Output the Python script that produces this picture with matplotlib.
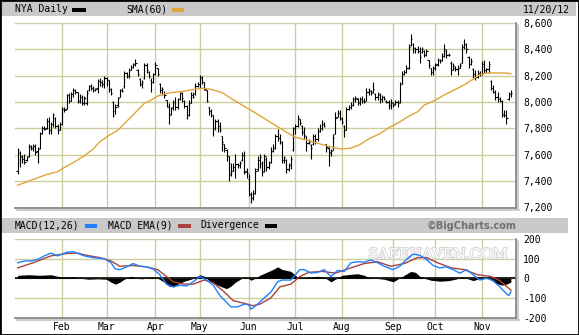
import matplotlib
matplotlib.use("Agg")
import matplotlib.pyplot as plt
import matplotlib.patheffects as pe
from matplotlib.lines import Line2D
from matplotlib.patches import Rectangle
import numpy as np
import pandas as pd

# NYSE Composite daily bars, 2012-01-03 .. 2012-11-20
opens = [
    7480, 7615, 7585, 7570, 7560, 7590, 7660, 7650, 7670, 7625,
    7650, 7765, 7800, 7800, 7860, 7790, 7830, 7880, 7820, 7790,
    7835, 7950, 7945, 8050, 8010, 8060, 8090, 8075, 8010, 8040,
    7995, 7990, 8090, 8120, 8110, 8095, 8110, 8160, 8150, 8135,
    8180, 8165, 8100, 8000, 7930, 7975, 8040, 8090, 8120, 8220,
    8200, 8245, 8265, 8290, 8240, 8175, 8140, 8180, 8285, 8230,
    8170, 8150, 8210, 8260, 8140, 8090, 8060, 8015, 7960, 7910,
    7960, 8000, 7960, 8020, 8070, 8010, 7970, 7900, 7995, 8050,
    8060, 8120, 8140, 8185, 8150, 8090, 7960, 7930, 7900, 7800,
    7855, 7820, 7740, 7680, 7640, 7590, 7460, 7480, 7510, 7530,
    7520, 7560, 7600, 7480, 7420, 7300, 7270, 7310, 7490, 7560,
    7540, 7480, 7570, 7510, 7545, 7630, 7650, 7740, 7730, 7700,
    7560, 7560, 7490, 7520, 7640, 7800, 7820, 7870, 7820, 7770,
    7745, 7690, 7675, 7680, 7740, 7720, 7780, 7800, 7830, 7680,
    7650, 7620, 7640, 7760, 7890, 7920, 7870, 7820, 7790, 7950,
    7965, 7975, 8020, 8020, 8000, 8020, 8010, 8010, 8080, 8085,
    8075, 8060, 8040, 8050, 8020, 8040, 8010, 8000, 7975, 7990,
    7985, 8000, 8000, 8140, 8210, 8225, 8260, 8430, 8440, 8410,
    8400, 8390, 8380, 8390, 8360, 8320, 8260, 8230, 8255, 8290,
    8320, 8320, 8350, 8390, 8360, 8300, 8245, 8260, 8250, 8260,
    8300, 8420, 8440, 8340, 8290, 8250, 8210, 8190, 8220, 8215,
    8290, 8240, 8250, 8160, 8110, 8080, 8040, 8020, 8010, 7910,
    7900, 8020, 8060,
]
highs = [
    7655, 7625, 7595, 7605, 7592, 7682, 7672, 7685, 7680, 7660,
    7775, 7815, 7822, 7878, 7890, 7850, 7920, 7890, 7835, 7850,
    7960, 7962, 8065, 8068, 8080, 8105, 8100, 8080, 8060, 8055,
    8045, 8092, 8130, 8138, 8120, 8110, 8178, 8182, 8170, 8195,
    8190, 8170, 8105, 8005, 7985, 8040, 8100, 8105, 8233, 8230,
    8260, 8278, 8300, 8330, 8251, 8185, 8170, 8298, 8300, 8235,
    8182, 8222, 8303, 8262, 8145, 8118, 8087, 8015, 7990, 7965,
    8015, 8036, 8030, 8080, 8075, 8015, 7977, 8015, 8080, 8080,
    8144, 8156, 8208, 8195, 8155, 8092, 7964, 7950, 7900, 7874,
    7874, 7850, 7746, 7682, 7644, 7592, 7541, 7541, 7605, 7541,
    7554, 7618, 7630, 7503, 7451, 7320, 7336, 7503, 7592, 7605,
    7554, 7605, 7580, 7554, 7656, 7682, 7759, 7797, 7760, 7705,
    7592, 7567, 7541, 7592, 7810, 7835, 7900, 7875, 7826, 7810,
    7746, 7718, 7682, 7759, 7759, 7800, 7836, 7862, 7850, 7685,
    7656, 7644, 7759, 7926, 7938, 7938, 7887, 7823, 7964, 7977,
    7998, 8041, 8046, 8028, 8041, 8046, 8028, 8105, 8105, 8092,
    8156, 8067, 8080, 8067, 8054, 8045, 8015, 8015, 8020, 7998,
    8015, 8015, 8156, 8233, 8246, 8285, 8439, 8515, 8450, 8420,
    8425, 8416, 8420, 8395, 8405, 8323, 8262, 8272, 8298, 8336,
    8330, 8375, 8440, 8400, 8375, 8310, 8298, 8272, 8285, 8298,
    8439, 8477, 8452, 8349, 8336, 8259, 8246, 8246, 8233, 8310,
    8323, 8259, 8310, 8169, 8131, 8092, 8080, 8041, 8015, 7938,
    7938, 8080, 8092,
]
lows = [
    7455, 7505, 7540, 7528, 7550, 7580, 7640, 7625, 7600, 7540,
    7645, 7760, 7785, 7795, 7760, 7760, 7810, 7800, 7760, 7785,
    7825, 7925, 7945, 7990, 8005, 8040, 8060, 7990, 7990, 7977,
    7977, 7977, 8085, 8095, 8080, 8085, 8070, 8120, 8115, 8105,
    8120, 8080, 8054, 7890, 7910, 7965, 8035, 8075, 8110, 8180,
    8180, 8240, 8255, 8270, 8195, 8120, 8105, 8175, 8220, 8182,
    8080, 8144, 8205, 8195, 8067, 8054, 8030, 7964, 7832, 7900,
    7938, 7938, 7950, 8015, 8000, 7952, 7874, 7895, 7990, 8030,
    8055, 8118, 8105, 8140, 8090, 8003, 7900, 7885, 7746, 7790,
    7772, 7772, 7630, 7618, 7554, 7400, 7441, 7477, 7426, 7503,
    7503, 7554, 7451, 7426, 7285, 7233, 7260, 7300, 7480, 7500,
    7439, 7470, 7477, 7490, 7540, 7618, 7645, 7708, 7682, 7541,
    7541, 7464, 7480, 7490, 7630, 7759, 7810, 7823, 7749, 7720,
    7630, 7680, 7567, 7675, 7682, 7708, 7770, 7790, 7810, 7618,
    7515, 7592, 7636, 7755, 7887, 7862, 7836, 7736, 7785, 7938,
    7951, 7970, 8003, 7977, 7977, 7990, 7990, 8005, 8054, 8054,
    8070, 8015, 8015, 7990, 8003, 8015, 7990, 7951, 7951, 7960,
    7977, 7964, 7995, 8135, 8205, 8220, 8250, 8426, 8375, 8375,
    8375, 8300, 8375, 8343, 8350, 8259, 8208, 8208, 8246, 8272,
    8295, 8315, 8345, 8336, 8349, 8208, 8240, 8233, 8208, 8259,
    8295, 8400, 8375, 8259, 8285, 8182, 8169, 8182, 8195, 8208,
    8220, 8220, 8220, 8092, 8067, 8015, 8003, 8003, 7887, 7887,
    7836, 8015, 8041,
]
closes = [
    7640, 7590, 7570, 7545, 7585, 7665, 7650, 7670, 7620, 7645,
    7760, 7800, 7795, 7860, 7790, 7830, 7900, 7820, 7790, 7830,
    7950, 7940, 8050, 8010, 8060, 8090, 8075, 8010, 8040, 7995,
    8030, 8070, 8120, 8110, 8095, 8100, 8160, 8150, 8135, 8180,
    8170, 8100, 8070, 7900, 7965, 8030, 8090, 8085, 8220, 8200,
    8245, 8265, 8285, 8300, 8210, 8140, 8150, 8285, 8240, 8200,
    8150, 8210, 8280, 8210, 8090, 8100, 8050, 7970, 7900, 7955,
    8000, 7960, 8020, 8070, 8030, 7970, 7900, 7990, 8050, 8040,
    8120, 8140, 8190, 8150, 8100, 8010, 7930, 7900, 7800, 7860,
    7820, 7790, 7700, 7650, 7590, 7450, 7480, 7510, 7530, 7520,
    7540, 7600, 7470, 7460, 7300, 7270, 7300, 7480, 7560, 7580,
    7470, 7590, 7510, 7540, 7630, 7650, 7740, 7730, 7700, 7560,
    7580, 7490, 7520, 7570, 7800, 7820, 7880, 7840, 7770, 7750,
    7690, 7700, 7650, 7740, 7720, 7780, 7800, 7830, 7820, 7660,
    7610, 7630, 7730, 7880, 7920, 7880, 7850, 7790, 7950, 7965,
    7975, 8020, 8030, 7995, 8020, 8010, 8000, 8080, 8090, 8070,
    8100, 8040, 8060, 8020, 8040, 8020, 8000, 7970, 8000, 7980,
    8000, 7990, 8140, 8210, 8225, 8260, 8420, 8480, 8410, 8400,
    8390, 8340, 8400, 8360, 8390, 8280, 8230, 8255, 8280, 8320,
    8310, 8350, 8400, 8360, 8355, 8240, 8270, 8250, 8260, 8285,
    8420, 8440, 8400, 8290, 8310, 8210, 8190, 8220, 8210, 8290,
    8240, 8250, 8290, 8110, 8080, 8040, 8020, 8010, 7900, 7900,
    7880, 8060, 8070,
]
holidays = ["2012-01-16", "2012-02-20", "2012-04-06", "2012-05-28",
            "2012-07-04", "2012-09-03", "2012-10-29", "2012-10-30"]

# 60-day simple moving average, read at selected sessions
sma_day = [0, 7, 13, 18, 21, 25, 30, 34, 37, 41, 45, 48, 51, 54, 57, 60, 63, 66, 69, 74,
           78, 83, 87, 92, 96, 101, 105, 110, 113, 116, 121, 125, 130, 134, 139, 143, 146, 150,
           154, 158, 163, 167, 172, 176, 180, 183, 188, 192, 196, 201, 205, 208, 211, 216, 219, 222]
sma_val = [7369, 7413, 7450, 7472, 7503, 7541, 7592, 7644, 7700, 7746, 7785, 7836, 7887, 7938,
           7990, 8015, 8046, 8062, 8072, 8080, 8092, 8105, 8097, 8072, 8028, 7977, 7938, 7887,
           7855, 7823, 7772, 7733, 7713, 7692, 7669, 7651, 7644, 7651, 7677, 7721, 7759, 7805,
           7849, 7892, 7926, 7977, 8015, 8054, 8087, 8131, 8174, 8208, 8221, 8221, 8221, 8215]

# MACD(12,26), its 9-day EMA and the divergence histogram
macd_day = [0, 3, 6, 9, 12, 15, 18, 22, 25, 30, 34, 39, 42, 44, 46, 49, 52, 55, 58, 61,
            64, 67, 70, 73, 76, 79, 82, 85, 88, 91, 96, 99, 102, 104, 105, 108, 111, 114, 117, 119,
            123, 127, 129, 132, 135, 138, 141, 144, 147, 150, 153, 156, 159, 162, 165, 169, 172, 175,
            178, 181, 184, 187, 190, 193, 196, 199, 202, 205, 208, 211, 214, 217, 220, 221, 222]
macd_val = [79, 88, 88, 96, 114, 128, 114, 132, 135, 114, 105, 100, 79, 47, 44, 58, 75, 61, 58, 47,
            18, -30, -44, -35, -40, -18, 9, -9, -35, -88, -146, -146, -132, -135, -158, -132, -100,
            -70, -18, -9, -9, 44, 44, 26, 30, 44, 9, 40, 35, 79, 84, 82, 93, 79, 61, 44, 61, 96,
            123, 117, 96, 65, 53, 58, 44, 26, 44, 18, -9, 0, -12, -44, -79, -88, -70]
signal_day = [0, 7, 15, 22, 27, 31, 37, 42, 46, 52, 58, 63, 67, 70, 75, 79, 84, 88, 93, 97,
              102, 106, 109, 114, 118, 123, 127, 131, 137, 143, 150, 156, 162, 168, 174, 180, 184,
              189, 195, 201, 207, 213, 217, 222]
signal_val = [53, 79, 114, 126, 128, 117, 105, 88, 61, 65, 58, 44, 9, -18, -30, -30, -9, -23, -70,
              -114, -128, -140, -132, -100, -44, -30, 9, 30, 35, 26, 53, 75, 84, 61, 75, 105, 105,
              79, 53, 44, 18, 9, -12, -61]
div_day = [0, 5, 10, 15, 18, 22, 25, 28, 32, 36, 40, 42, 44, 46, 48, 50, 51, 53, 56, 60,
           63, 66, 68, 70, 72, 75, 78, 80, 82, 84, 86, 88, 91, 94, 96, 98, 101, 103, 105, 107,
           109, 112, 115, 117, 119, 121, 123, 126, 128, 131, 135, 138, 141, 143, 146, 150, 153, 156,
           158, 161, 165, 169, 171, 174, 177, 179, 181, 183, 186, 190, 194, 197, 200, 202, 205, 207,
           210, 212, 215, 218, 220, 222]
div_val = [15, 18, 15, 18, 10, 5, 8, 0, -5, -3, -5, -20, -30, -20, -5, 5, 10, 0, -3, 5,
           0, -20, -40, -44, -30, -15, -5, 5, 18, 10, -10, -25, -40, -53, -40, -20, 0, 5, -10, 0,
           15, 30, 45, 58, 45, 40, 35, 5, 0, 5, 10, 5, -18, -5, 15, 20, 23, 15, 5, 0,
           -5, -18, -5, 15, 35, 30, 10, 0, -10, -15, -12, -5, 5, 0, -12, -5, 5, 0, -25, -35,
           -30, -20]

price_ticks = [7200, 7400, 7600, 7800, 8000, 8200, 8400, 8600]
macd_ticks = [-200, -100, 0, 100, 200]
last_date = "11/20/12"

# trading calendar
dates = pd.bdate_range("2012-01-03", "2012-11-20")
dates = dates[~dates.isin(pd.to_datetime(holidays))]
assert len(dates) == len(closes) == len(opens) == len(highs) == len(lows)
day = np.arange(len(dates))
month_pos = [i for i in range(1, len(dates)) if dates[i].month != dates[i - 1].month]
month_lbl = [dates[i].strftime("%b") for i in month_pos]

plt.rcParams["font.family"] = ["DejaVu Sans Mono"]
plt.rcParams["axes.unicode_minus"] = False

W, H = 579, 335
fig = plt.figure(figsize=(W / 100, H / 100), dpi=100)


def fx(x):
    return x / W


def fy(y):
    return 1 - y / H


def box(x0, y0, x1, y1, color):
    fig.patches.append(Rectangle((fx(x0), fy(y1)), fx(x1) - fx(x0), (y1 - y0) / H,
                                 transform=fig.transFigure, color=color, lw=0, zorder=0))


GRID = "#cccc9c"
BLUE = "#1f80ff"
RED = "#a8423c"
GOLD = "#e0a53a"

# header bars
box(2, 2, 576, 16, "#c9c9c9")
box(2, 218, 568, 233, "#c9c9c9")
box(72, 8, 86, 11.5, "black")
box(172, 8, 184, 11.5, GOLD)
box(85, 224, 97, 227.5, BLUE)
box(178, 224, 191, 227.5, RED)
box(265, 224, 277, 227.5, "black")
fig.text(fx(15), fy(9.5), "NYA Daily", va="center", fontsize=7)
fig.text(fx(126), fy(9.5), "SMA(60)", va="center", fontsize=7)
fig.text(fx(523), fy(9.5), last_date, va="center", fontsize=7)
fig.text(fx(15), fy(225.5), "MACD(12,26)", va="center", fontsize=7)
fig.text(fx(108), fy(225.5), "MACD EMA(9)", va="center", fontsize=7)
fig.text(fx(200), fy(225.5), "Divergence", va="center", fontsize=7)
fig.text(fx(516), fy(225.5), "\u00a9BigCharts.com", va="center", ha="right",
         fontsize=7, fontweight="bold", family="DejaVu Sans", color="#707070")

ax = fig.add_axes([fx(15), fy(207.5), fx(516) - fx(15), (207.5 - 23) / H])
ax2 = fig.add_axes([fx(15), fy(317.5), fx(516) - fx(15), (317.5 - 239) / H])

for a in (ax, ax2):
    a.set_xlim(-1.2, 224.3)
    a.set_xticks(month_pos)
    a.grid(True, color=GRID, lw=1)
    a.set_axisbelow(True)
    a.yaxis.tick_right()
    a.tick_params(axis="y", length=0, pad=5, labelsize=7)
    a.spines["top"].set_visible(False)
    a.spines["left"].set_visible(False)
    for s in ("right", "bottom"):
        a.spines[s].set_color("#7f7f7f")
        a.spines[s].set_linewidth(1.2)
    for lbl in a.get_yticklabels():
        lbl.set_horizontalalignment("left")

# price bars
ax.vlines(day, lows, highs, color="black", lw=0.8)
ax.hlines(opens, day - 0.55, day, color="black", lw=0.8)
ax.hlines(closes, day, day + 0.55, color="black", lw=0.8)
ax.plot(sma_day, sma_val, color=GOLD, lw=1)
ax.set_ylim(7200, 8600)
ax.set_yticks(price_ticks)
ax.set_yticklabels([f"{v:,}" for v in price_ticks])
ax.tick_params(axis="x", length=0, labelbottom=False)

# MACD panel
ax2.text(0.845, 0.8, "SAFEHAVEN.COM", transform=ax2.transAxes, ha="center", va="center",
         family="DejaVu Serif", fontsize=10.5, color="white", zorder=1,
         path_effects=[pe.withStroke(linewidth=1.3, foreground="#d4d4d4")])
ax2.fill_between(div_day, 0, div_val, color="black", lw=0, zorder=2)
ax2.axhline(0, color="black", lw=1.2, zorder=2)
ax2.plot(signal_day, signal_val, color=RED, lw=1, zorder=3)
ax2.plot(macd_day, macd_val, color=BLUE, lw=1, zorder=4)
ax2.set_ylim(-200, 200)
ax2.set_yticks(macd_ticks)
ax2.set_yticklabels([str(v) for v in macd_ticks])
ax2.set_xticklabels(month_lbl)
ax2.tick_params(axis="x", length=0, pad=3.5, labelsize=7)
for lbl in ax2.get_yticklabels():
    lbl.set_horizontalalignment("left")

# drop shadows along the right and bottom frames
for top, bot in ((23, 208), (239, 318)):
    fig.add_artist(Line2D([fx(518), fx(518)], [fy(top + 2), fy(bot + 2)], color="#c4c4c4", lw=1.2))
    fig.add_artist(Line2D([fx(17), fx(518.5)], [fy(bot + 1.8), fy(bot + 1.8)], color="#c4c4c4", lw=1.2))

fig.patches.append(Rectangle((0, 0), 1, 1, transform=fig.transFigure, fill=False,
                             ec="black", lw=2, zorder=10))

fig.savefig("out.png", dpi=100)
